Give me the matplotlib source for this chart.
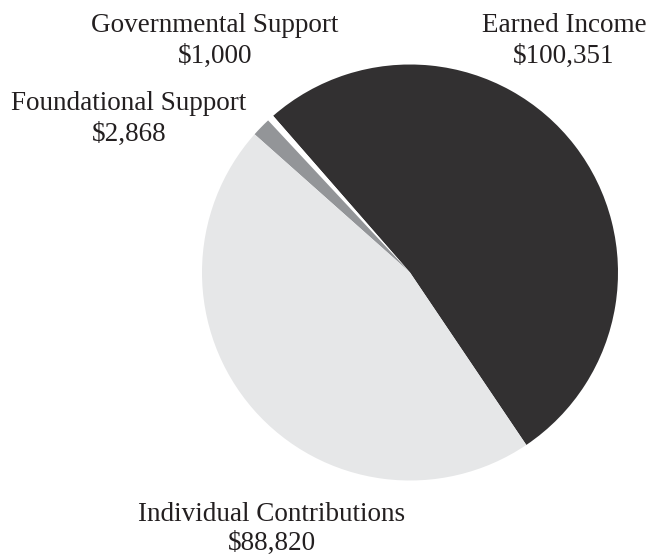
import matplotlib
matplotlib.use("Agg")
import matplotlib.pyplot as plt

categories = ["Earned Income", "Governmental Support", "Foundational Support", "Individual Contributions"]
values = [100351, 1000, 2868, 88820]
value_labels = ["$100,351", "$1,000", "$2,868", "$88,820"]
colors = ["#323031", "#ffffff", "#939598", "#e6e7e8"]

W, H = 652, 556
fig = plt.figure(figsize=(W / 100, H / 100), dpi=100)
ax = fig.add_axes([0, 0, 1, 1])
ax.set_xlim(0, W)
ax.set_ylim(0, H)
ax.set_aspect("equal")
ax.axis("off")

ax.pie(values, colors=colors, startangle=-56, counterclock=True,
       center=(410, H - 272.5), radius=208,
       wedgeprops=dict(linewidth=0))
ax.set_xlim(0, W)
ax.set_ylim(0, H)

# label positions (centre x, baseline of first line, line gap) in image pixels
label_pos = {
    "Earned Income": (564, 32, 31),
    "Governmental Support": (215, 32, 31),
    "Foundational Support": (129, 110, 31),
    "Individual Contributions": (272, 521, 29),
}
font = dict(family=["Liberation Serif", "DejaVu Serif"], fontsize=19.5, color="#231f20")
for cat, vl in zip(categories, value_labels):
    x, yb, gap = label_pos[cat]
    ax.text(x, H - yb, cat, ha="center", va="baseline", **font)
    ax.text(x, H - yb - gap, vl, ha="center", va="baseline", **font)

fig.savefig("out.png", dpi=100)
